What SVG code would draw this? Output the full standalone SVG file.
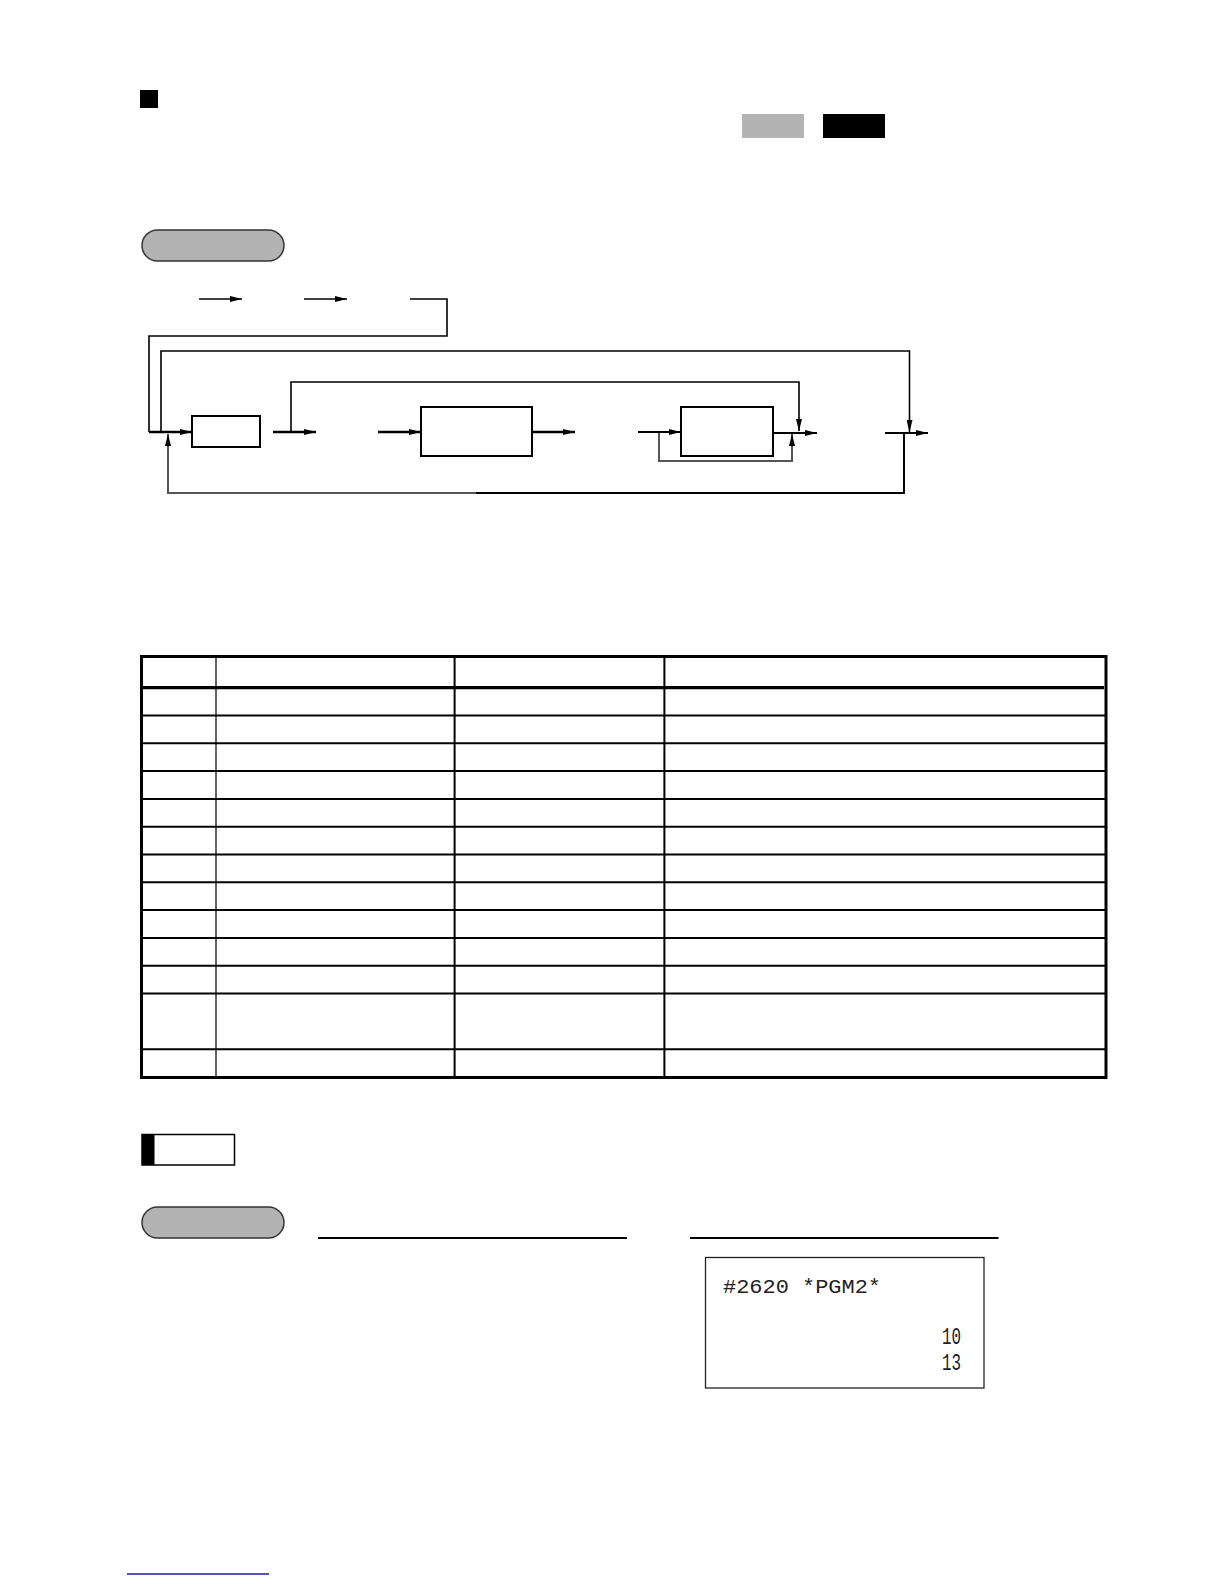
<svg xmlns="http://www.w3.org/2000/svg" width="1224" height="1584" viewBox="0 0 1224 1584">
<style>
  .box{fill:#fff;stroke:#000;stroke-width:2}
  .thin{fill:none;stroke:#000;stroke-width:1.6}
  .thick{fill:none;stroke:#000;stroke-width:2.6}
  .grey{fill:none;stroke:#555;stroke-width:2}
  .cap{fill:#b3b3b3;stroke:#333;stroke-width:1.5}
  .tl{fill:none;stroke:#000;stroke-width:2}
  .rc{font-family:"Liberation Mono","DejaVu Sans Mono",monospace;fill:#222}
</style>
<defs>
  <marker id="ah" viewBox="0 0 12 6" markerWidth="12" markerHeight="6" refX="12" refY="3" orient="auto" markerUnits="userSpaceOnUse">
    <path d="M0,0 L12,3 L0,6 z" fill="#000"/>
  </marker>
</defs>
<rect width="1224" height="1584" fill="#fff"/>

<g id="header">
  <rect x="140" y="90" width="18" height="18" fill="#000"/>
  <rect x="742" y="114" width="62" height="24" fill="#b3b3b3"/>
  <rect x="823" y="114" width="62" height="24" fill="#000"/>
  <rect class="cap" x="142" y="230" width="142" height="31" rx="15.5"/>
</g>

<g id="connectors">
  <path class="thin" d="M199,299 H242" marker-end="url(#ah)"/>
  <path class="thin" d="M304,299 H347" marker-end="url(#ah)"/>
  <path class="thin" d="M410,299 H447 V336 H149 V432"/>
  <path class="thick" d="M149,432 H192" marker-end="url(#ah)"/>
  <path class="thin" d="M161,432 V351 H909.5 V432" marker-end="url(#ah)"/>
  <path class="thick" d="M273,432 H316" marker-end="url(#ah)"/>
  <path class="thin" d="M291,432 V382 H799 V431" marker-end="url(#ah)"/>
  <path class="thick" d="M378,432 H421" marker-end="url(#ah)"/>
  <path class="thick" d="M532,432 H575" marker-end="url(#ah)"/>
  <path class="tl" d="M638,432 H681" marker-end="url(#ah)"/>
  <path class="tl" d="M773,433 H817" marker-end="url(#ah)"/>
  <path class="grey" d="M659,433 V461 H792 V434" marker-end="url(#ah)"/>
  <path class="tl" d="M885,433 H928" marker-end="url(#ah)"/>
  <path class="tl" d="M904,433 V493 H475"/>
  <path class="grey" d="M476,493 H168 V434" marker-end="url(#ah)"/>
</g>

<g id="box1"><rect class="box" x="192" y="416" width="68" height="31"/></g>
<g id="box2"><rect class="box" x="421" y="407" width="111" height="49"/></g>
<g id="box3"><rect class="box" x="681" y="407" width="92" height="49"/></g>

<g id="table">
  <g stroke="#000" stroke-width="2">
    <line x1="141.5" y1="715.5" x2="1106" y2="715.5"/>
    <line x1="141.5" y1="743.3" x2="1106" y2="743.3"/>
    <line x1="141.5" y1="771.1" x2="1106" y2="771.1"/>
    <line x1="141.5" y1="798.9" x2="1106" y2="798.9"/>
    <line x1="141.5" y1="826.7" x2="1106" y2="826.7"/>
    <line x1="141.5" y1="854.5" x2="1106" y2="854.5"/>
    <line x1="141.5" y1="882.3" x2="1106" y2="882.3"/>
    <line x1="141.5" y1="910.1" x2="1106" y2="910.1"/>
    <line x1="141.5" y1="937.9" x2="1106" y2="937.9"/>
    <line x1="141.5" y1="965.7" x2="1106" y2="965.7"/>
    <line x1="141.5" y1="993.5" x2="1106" y2="993.5"/>
    <line x1="141.5" y1="1049.3" x2="1106" y2="1049.3"/>
    <line x1="454.6" y1="656.5" x2="454.6" y2="1077.5"/>
    <line x1="664.4" y1="656.5" x2="664.4" y2="1077.5"/>
  </g>
  <line x1="216" y1="656.5" x2="216" y2="1077.5" stroke="#000" stroke-width="1.2"/>
  <line x1="141.5" y1="687.7" x2="1104" y2="687.7" stroke="#000" stroke-width="3.2"/>
  <rect x="141.5" y="656.5" width="964.5" height="421" fill="none" stroke="#000" stroke-width="3"/>
</g>

<g id="note">
  <rect x="142" y="1134.5" width="92.5" height="30.5" fill="#fff" stroke="#000" stroke-width="1.5"/>
  <rect x="142" y="1134.5" width="12.5" height="30.5" fill="#000"/>
</g>

<g id="example">
  <rect class="cap" x="142" y="1207" width="142" height="31" rx="15.5"/>
  <line x1="318" y1="1238" x2="627" y2="1238" stroke="#000" stroke-width="1.8"/>
  <line x1="690" y1="1238" x2="998.5" y2="1238" stroke="#000" stroke-width="1.8"/>
</g>

<g id="receipt">
  <rect x="705.5" y="1257.5" width="278.5" height="130.5" fill="#fff" stroke="#222" stroke-width="1.3"/>
  <text class="rc" x="723" y="1292.5" font-size="21" textLength="158" lengthAdjust="spacingAndGlyphs">#2620 *PGM2*</text>
  <text class="rc" x="942" y="1343.5" font-size="23" textLength="19" lengthAdjust="spacingAndGlyphs">10</text>
  <text class="rc" x="942" y="1369.5" font-size="23" textLength="19" lengthAdjust="spacingAndGlyphs">13</text>
</g>

<line x1="127" y1="1574" x2="269" y2="1574" stroke="#1a1a9a" stroke-width="1.6"/>
</svg>
